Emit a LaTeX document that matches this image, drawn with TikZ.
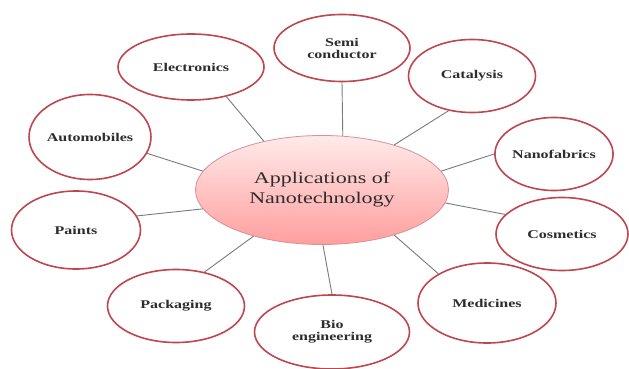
\documentclass[tikz,border=0pt]{standalone}
\usepackage{graphicx}
\usepackage{fontspec}
\setmainfont{Liberation Serif}
\usetikzlibrary{shapes.geometric}

\definecolor{ringred}{RGB}{190,70,78}
\definecolor{linkgray}{RGB}{118,122,134}
\definecolor{txtgray}{RGB}{45,45,45}
\newcommand{\squash}[1]{\scalebox{1}[0.74]{#1}}

\begin{document}
\begin{tikzpicture}[x=1pt, y=-1pt,
    leaf/.style={ellipse, draw=ringred, line width=1.6pt, fill=white, inner sep=0pt,
        text=txtgray, font=\fontsize{16}{12}\selectfont\bfseries, align=center},
    hub/.style={ellipse, draw=ringred!60, line width=0.8pt, inner sep=0pt,
        top color=red!8, bottom color=red!38!white, text=txtgray,
        font=\fontsize{22}{20}\selectfont, align=center},
    link/.style={draw=linkgray, line width=0.9pt}]
    \useasboundingbox (0,0) rectangle (629,369);

    % centre
    \node[hub, minimum width=253, minimum height=109] (app) at (322,190)
        {\squash{Applications of}\\\squash{Nanotechnology}};

    % applications around it
    \node[leaf, minimum width=146, minimum height=66] (elec) at (191,67) {\squash{Electronics}};
    \node[leaf, minimum width=136, minimum height=67] (semi) at (342,48) {\squash{Semi}\\\squash{conductor}};
    \node[leaf, minimum width=127, minimum height=73] (cata) at (472,76) {\squash{Catalysis}};
    \node[leaf, minimum width=117, minimum height=85] (auto) at (90,137) {\squash{Automobiles}};
    \node[leaf, minimum width=118, minimum height=73] (nano) at (554,154) {\squash{Nanofabrics}};
    \node[leaf, minimum width=129, minimum height=78] (paint) at (76,230) {\squash{Paints}};
    \node[leaf, minimum width=132, minimum height=73] (cosm) at (562,234) {\squash{Cosmetics}};
    \node[leaf, minimum width=137, minimum height=73] (pack) at (176,306) {\squash{Packaging}};
    \node[leaf, minimum width=155, minimum height=74] (bio) at (332,332) {\squash{Bio}\\\squash{engineering}};
    \node[leaf, minimum width=138, minimum height=80] (medi) at (487,303) {\squash{Medicines}};

    % connectors
    \draw[link] (elec.-40) -- (app.140);
    \draw[link] (semi.-90) -- (app.69);
    \draw[link] (cata.-124) -- (app.32);
    \draw[link] (auto.-16) -- (app.171);
    \draw[link] (nano.180) -- (app.9);
    \draw[link] (paint.13) -- (app.189);
    \draw[link] (cosm.161) -- (app.-6);
    \draw[link] (pack.50) -- (app.-146);
    \draw[link] (bio.90) -- (app.-89);
    \draw[link] (medi.149) -- (app.-32);
\end{tikzpicture}
\end{document}
